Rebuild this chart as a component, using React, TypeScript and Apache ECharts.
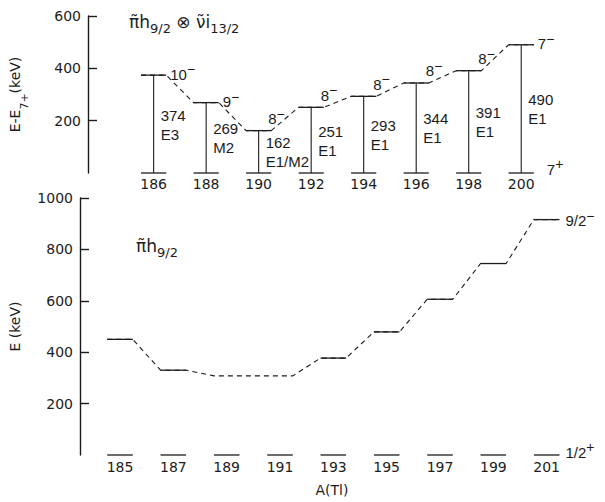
import React, { useEffect, useRef } from 'react';
import * as echarts from 'echarts';

// ---- data ----
const topMass = [186, 188, 190, 192, 194, 196, 198, 200];
const topEnergy = [374, 269, 162, 251, 293, 344, 391, 490];
const topSpin = ['10⁻', '9⁻', '8⁻', '8⁻', '8⁻', '8⁻', '8⁻', '7⁻'];
const topMultipolarity = ['E3', 'M2', 'E1/M2', 'E1', 'E1', 'E1', 'E1', 'E1'];
const topGroundSpin = '7⁺';
const topYMax = 600;
const topYStep = 200;

const bottomMass = [185, 187, 189, 191, 193, 195, 197, 199, 201];
const bottomEnergy = [450, 330, 308, 308, 377, 479, 606, 745, 916];
const bottomTentative = [false, false, true, true, false, false, false, false, false];
const bottomUpperSpin = '9/2⁻';
const bottomGroundSpin = '1/2⁺';
const bottomYMax = 1000;
const bottomYStep = 200;

const massMin = 183.5;
const massMax = 203;

const INK = '#1c1c1c';
const HALF = 0.48;
const LABEL_FAMILY = '"Liberation Sans", Arial, sans-serif';
const LABEL_FONT = '14px ' + LABEL_FAMILY;
const AXIS_FONT = 'DejaVu Sans';

const SPIN_RICH = {
  b: { fontFamily: LABEL_FAMILY, fontSize: 15, fill: INK, color: INK, lineHeight: 24, verticalAlign: 'middle' },
  p: { fontFamily: LABEL_FAMILY, fontSize: 14, fill: INK, color: INK, lineHeight: 10, verticalAlign: 'top' },
};

function spinText(s: string) {
  const last = s.slice(-1);
  const sign = last === '⁻' ? '−' : last === '⁺' ? '+' : '';
  const base = sign ? s.slice(0, -1) : s;
  return `{b|${base}}{p|${sign}}`;
}

function spinLabel(x: number, y: number, s: string) {
  return {
    type: 'text',
    x,
    y,
    style: { text: spinText(s), rich: SPIN_RICH, fill: INK, align: 'left', verticalAlign: 'middle' },
  };
}

function hline(p: number[], q: number[]) {
  return {
    type: 'line',
    shape: { x1: p[0], y1: p[1], x2: q[0], y2: q[1] },
    style: { stroke: INK, lineWidth: 1.3 },
  };
}

function connectorData(mass: number[], energy: number[]) {
  const pts: number[][] = [];
  mass.forEach((m, i) => {
    pts.push([m - HALF, energy[i]]);
    pts.push([m + HALF, energy[i]]);
  });
  return pts;
}

export default function App() {
  const ref = useRef<HTMLDivElement>(null);
  useEffect(() => {
    if (!ref.current) return;
    const chart = echarts.init(ref.current, undefined, { renderer: 'svg' });

    const yAxisCommon = {
      type: 'value',
      min: 0,
      axisLine: { show: true, lineStyle: { color: INK, width: 1.4 } },
      axisTick: { show: true, inside: true, length: 9, lineStyle: { color: INK, width: 1.4 } },
      splitLine: { show: false },
      axisLabel: {
        showMinLabel: false,
        color: INK,
        fontFamily: AXIS_FONT,
        fontSize: 14,
        margin: 7,
        formatter: (v: number) => String(v),
      },
      nameLocation: 'middle',
      nameRotate: 90,
    };
    const xAxisCommon = {
      type: 'value',
      min: massMin,
      max: massMax,
      axisLine: { show: false },
      axisTick: { show: false },
      splitLine: { show: false },
    };

    const option: any = {
      animation: false,
      backgroundColor: '#ffffff',
      grid: [
        { left: 80, width: 520, top: 16, height: 157 },
        { left: 80, width: 520, top: 198, height: 263 },
      ],
      xAxis: [
        {
          ...xAxisCommon,
          gridIndex: 0,
          axisLabel: {
            customValues: topMass,
            color: INK,
            fontFamily: AXIS_FONT,
            fontSize: 14,
            margin: 4,
            formatter: (v: number) => String(v),
          },
        },
        {
          ...xAxisCommon,
          gridIndex: 1,
          axisLabel: {
            customValues: bottomMass,
            color: INK,
            fontFamily: AXIS_FONT,
            fontSize: 14,
            margin: 5,
            formatter: (v: number) => String(v),
          },
          name: 'A(Tl)',
          nameLocation: 'middle',
          nameGap: 28,
          nameTextStyle: { color: INK, fontFamily: AXIS_FONT, fontSize: 14, padding: [0, 16, 0, 0] },
        },
      ],
      yAxis: [
        {
          ...yAxisCommon,
          gridIndex: 0,
          max: topYMax,
          interval: topYStep,
          name: '{m|E-E}{s|7+}{m|(keV)}',
          nameGap: 58,
          nameTextStyle: {
            rich: {
              m: { fontFamily: AXIS_FONT, fontSize: 14, color: INK, lineHeight: 22, verticalAlign: 'top' },
              s: { fontFamily: AXIS_FONT, fontSize: 11, color: INK, lineHeight: 13, verticalAlign: 'bottom' },
            },
          },
        },
        {
          ...yAxisCommon,
          gridIndex: 1,
          max: bottomYMax,
          interval: bottomYStep,
          name: 'E (keV)',
          nameGap: 58,
          nameTextStyle: { fontFamily: AXIS_FONT, fontSize: 14, color: INK },
        },
      ],
      graphic: [
        {
          type: 'text',
          left: 129,
          top: 13,
          style: {
            text: '{m|π̃h}{s|9/2}{m| ⊗ ν̃i}{s|13/2}',
            rich: {
              m: { fontFamily: AXIS_FONT, fontSize: 17, fill: INK, lineHeight: 22, verticalAlign: 'top' },
              s: { fontFamily: AXIS_FONT, fontSize: 13, fill: INK, lineHeight: 14, verticalAlign: 'bottom' },
            },
          },
        },
        {
          type: 'text',
          left: 136,
          top: 237,
          style: {
            text: '{m|π̃h}{s|9/2}',
            rich: {
              m: { fontFamily: AXIS_FONT, fontSize: 17, fill: INK, lineHeight: 22, verticalAlign: 'top' },
              s: { fontFamily: AXIS_FONT, fontSize: 13, fill: INK, lineHeight: 14, verticalAlign: 'bottom' },
            },
          },
        },
      ],
      series: [
        // top: dashed connectors
        {
          type: 'line',
          xAxisIndex: 0,
          yAxisIndex: 0,
          data: connectorData(topMass, topEnergy),
          symbol: 'none',
          lineStyle: { color: INK, width: 1.1, type: [5, 4] },
          z: 2,
        },
        // top: levels and transitions
        {
          type: 'custom',
          xAxisIndex: 0,
          yAxisIndex: 0,
          data: topMass.map((m, i) => [m, topEnergy[i]]),
          encode: { x: 0, y: 1 },
          z: 3,
          renderItem: (params: any, api: any) => {
            const a = api.value(0);
            const e = api.value(1);
            const uL = api.coord([a - HALF, e]);
            const uR = api.coord([a + HALF, e]);
            const gL = api.coord([a - HALF, 0]);
            const gR = api.coord([a + HALF, 0]);
            const c = api.coord([a, e]);
            const c0 = api.coord([a, 0]);
            return {
              type: 'group',
              children: [
                hline(uL, uR),
                hline(gL, gR),
                {
                  type: 'line',
                  shape: { x1: c[0], y1: c[1], x2: c0[0], y2: c0[1] },
                  style: { stroke: INK, lineWidth: 1.1 },
                },
              ],
            };
          },
        },
        // top: labels
        {
          type: 'custom',
          xAxisIndex: 0,
          yAxisIndex: 0,
          data: topMass.map((m, i) => [m, topEnergy[i]]),
          encode: { x: 0, y: 1 },
          z: 4,
          renderItem: (params: any, api: any) => {
            const i = params.dataIndex;
            const a = api.value(0);
            const e = api.value(1);
            const uR = api.coord([a + HALF, e]);
            const mid = api.coord([a, e / 2]);
            const next = topEnergy[i + 1];
            const rising = next !== undefined && next > e;
            const spinPos = rising ? [uR[0] - 3, uR[1] - 12] : [uR[0] + 4, uR[1] - 1];
            const children: any[] = [
              spinLabel(spinPos[0], spinPos[1], topSpin[i]),
              {
                type: 'text',
                x: mid[0] + 7,
                y: mid[1] - 9,
                style: { text: String(topEnergy[i]), font: '15px ' + LABEL_FAMILY, fill: INK, align: 'left', verticalAlign: 'middle' },
              },
              {
                type: 'text',
                x: mid[0] + 7,
                y: mid[1] + 10,
                style: { text: topMultipolarity[i], font: '15px ' + LABEL_FAMILY, fill: INK, align: 'left', verticalAlign: 'middle' },
              },
            ];
            if (i === topMass.length - 1) {
              const gR = api.coord([a + HALF, 0]);
              children.push(spinLabel(gR[0] + 13, gR[1] - 4, topGroundSpin));
            }
            return { type: 'group', children };
          },
        },
        // bottom: dashed connectors
        {
          type: 'line',
          xAxisIndex: 1,
          yAxisIndex: 1,
          data: connectorData(bottomMass, bottomEnergy),
          symbol: 'none',
          lineStyle: { color: INK, width: 1.1, type: [5, 4] },
          z: 2,
        },
        // bottom: levels
        {
          type: 'custom',
          xAxisIndex: 1,
          yAxisIndex: 1,
          data: bottomMass.map((m, i) => [m, bottomEnergy[i]]),
          encode: { x: 0, y: 1 },
          z: 3,
          renderItem: (params: any, api: any) => {
            const i = params.dataIndex;
            const a = api.value(0);
            const e = api.value(1);
            const uL = api.coord([a - HALF, e]);
            const uR = api.coord([a + HALF, e]);
            const gL = api.coord([a - HALF, 0]);
            const gR = api.coord([a + HALF, 0]);
            const children: any[] = [hline(gL, gR)];
            if (!bottomTentative[i]) children.push(hline(uL, uR));
            if (i === bottomMass.length - 1) {
              children.push(spinLabel(uR[0] + 6, uR[1] + 1, bottomUpperSpin));
              children.push(spinLabel(gR[0] + 6, gR[1] - 3, bottomGroundSpin));
            }
            return { type: 'group', children };
          },
        },
      ],
    };
    chart.setOption(option);
    return () => chart.dispose();
  }, []);
  return (
    <div
      ref={ref}
      style={{ position: 'absolute', left: 0, top: 0, width: 605, height: 502, background: '#fff' }}
    />
  );
}
